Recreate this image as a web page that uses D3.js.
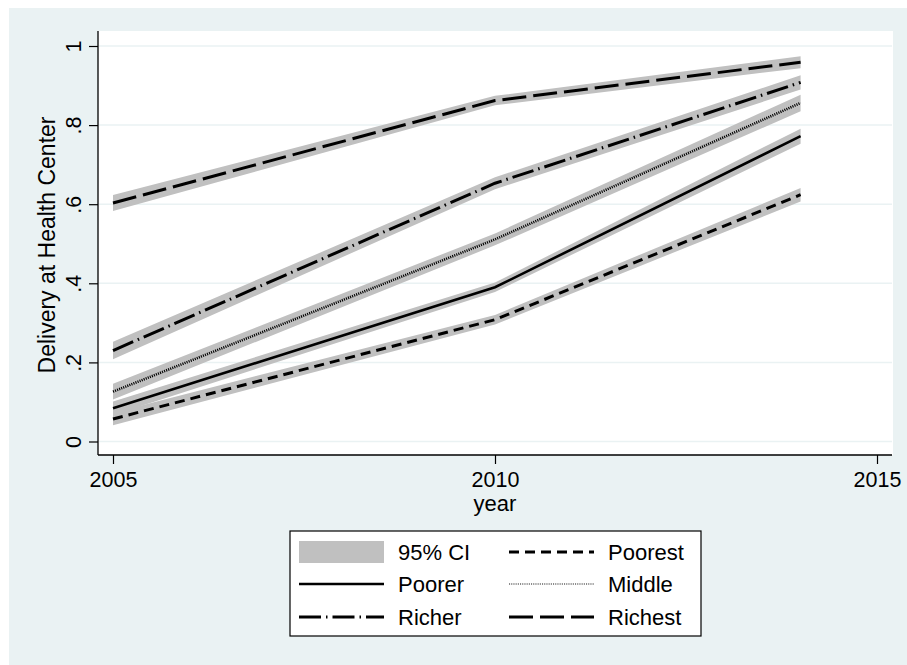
<!DOCTYPE html>
<html>
<head>
<meta charset="utf-8">
<script src="https://cdn.jsdelivr.net/npm/d3@7"></script>
<style>
  body { margin: 0; background: #fff; }
  text { font-family: "Liberation Sans", Arial, sans-serif; fill: #000; }
</style>
</head>
<body>
<script>
// ---------------- data ----------------
let years = [2005, 2010, 2014]
let groups = ["Poorest", "Poorer", "Middle", "Richer", "Richest"]

let poorest = [0.057, 0.308, 0.624]
let poorer  = [0.084, 0.390, 0.772]
let middle  = [0.126, 0.511, 0.856]
let richer  = [0.230, 0.653, 0.908]
let richest = [0.603, 0.862, 0.959]

// half width of the 95% CI at each year
let ciPoorest = [0.016, 0.012, 0.017]
let ciPoorer  = [0.017, 0.012, 0.019]
let ciMiddle  = [0.020, 0.015, 0.021]
let ciRicher  = [0.022, 0.015, 0.018]
let ciRichest = [0.020, 0.012, 0.015]

let xTicks = [2005, 2010, 2015]
let yTicks = [0, 0.2, 0.4, 0.6, 0.8, 1]
let yTickLabels = ["0", ".2", ".4", ".6", ".8", "1"]

let w = 907
let h = 665

let series = [
  { name: groups[0], values: poorest, ci: ciPoorest, dash: "10,6",       width: 3 },
  { name: groups[1], values: poorer,  ci: ciPoorer,  dash: null,         width: 2.6 },
  { name: groups[2], values: middle,  ci: ciMiddle,  dash: "1.1,1.1",    width: 2.6 },
  { name: groups[3], values: richer,  ci: ciRicher,  dash: "22,5,1.5,5", width: 3 },
  { name: groups[4], values: richest, ci: ciRichest, dash: "24,7",       width: 3 }
]

let svg = d3.select("body")
  .append("svg")
  .attr("width", w)
  .attr("height", h)

// outer panel
svg.append("rect")
  .attr("x", 9).attr("y", 8)
  .attr("width", w - 9).attr("height", h - 8)
  .attr("fill", "#eaf2f3")

// plot area
svg.append("rect")
  .attr("x", 98).attr("y", 31)
  .attr("width", 795).attr("height", 424)
  .attr("fill", "#fff")

let x = d3.scaleLinear().domain([2005, 2015]).range([113, 877])
let y = d3.scaleLinear().domain([0, 1]).range([441.5, 46])

// grid lines
svg.selectAll(".grid")
  .data(yTicks)
  .enter()
  .append("line")
    .attr("x1", 99).attr("x2", 892)
    .attr("y1", d => y(d)).attr("y2", d => y(d))
    .attr("stroke", "#eaf2f3")
    .attr("stroke-width", 1.5)

// CI bands
let area = d3.area()
  .x((d, i) => x(years[i]))
  .y0(d => y(d[0]))
  .y1(d => y(d[1]))

series.forEach(s => {
  let band = s.values.map((v, i) => [v - s.ci[i], v + s.ci[i]])
  svg.append("path")
    .attr("d", area(band))
    .attr("fill", "#c0c0c0")
})

// lines
let line = d3.line()
  .x((d, i) => x(years[i]))
  .y(d => y(d))

series.forEach(s => {
  svg.append("path")
    .attr("d", line(s.values))
    .attr("fill", "none")
    .attr("stroke", "#000")
    .attr("stroke-width", s.width)
    .attr("stroke-dasharray", s.dash)
})

// axes
let yAxis = d3.axisLeft(y)
  .tickValues(yTicks)
  .tickFormat((d, i) => yTickLabels[i])
  .tickSize(9)
  .tickSizeOuter(0)

let gy = svg.append("g")
  .attr("transform", "translate(98,0)")
  .call(yAxis)
gy.select(".domain").attr("d", "M0,31V455").attr("stroke", "#000").attr("stroke-width", 1.3)
gy.selectAll(".tick line").attr("stroke", "#000").attr("stroke-width", 1.2)
gy.selectAll(".tick text")
  .attr("x", null).attr("dy", null)
  .attr("transform", "translate(-17.5,0) rotate(-90)")
  .attr("text-anchor", "middle")
  .attr("font-size", 21.5)
  .attr("font-family", "Liberation Sans, Arial, sans-serif")

let xAxis = d3.axisBottom(x)
  .tickValues(xTicks)
  .tickFormat(d3.format("d"))
  .tickSize(9)
  .tickSizeOuter(0)

let gx = svg.append("g")
  .attr("transform", "translate(0,455)")
  .call(xAxis)
gx.select(".domain").attr("d", "M98,0H892").attr("stroke", "#000").attr("stroke-width", 1.3)
gx.selectAll(".tick line").attr("stroke", "#000").attr("stroke-width", 1.2)
gx.selectAll(".tick text")
  .attr("y", 32).attr("dy", null)
  .attr("font-size", 21.5)
  .attr("font-family", "Liberation Sans, Arial, sans-serif")

// axis titles
svg.append("text")
  .attr("x", 495).attr("y", 511)
  .attr("text-anchor", "middle")
  .attr("font-size", 22)
  .text("year")

svg.append("text")
  .attr("transform", "translate(55,245) rotate(-90)")
  .attr("text-anchor", "middle")
  .attr("font-size", 23)
  .text("Delivery at Health Center")

// legend
svg.append("rect")
  .attr("x", 290).attr("y", 531)
  .attr("width", 411).attr("height", 105)
  .attr("fill", "#fff")
  .attr("stroke", "#000")
  .attr("stroke-width", 1.2)

let legendItems = [
  { label: "95% CI", isBand: true },
  { label: series[0].name, s: series[0] },
  { label: series[1].name, s: series[1] },
  { label: series[2].name, s: series[2] },
  { label: series[3].name, s: series[3] },
  { label: series[4].name, s: series[4] }
]
let rowY = [552, 584, 617]
let colX = [299, 509]
let keyW = 85

legendItems.forEach((it, i) => {
  let col = i % 2
  let row = Math.floor(i / 2)
  let cy = rowY[row]
  let kx = colX[col]
  if (it.isBand) {
    svg.append("rect")
      .attr("x", kx).attr("y", cy - 11)
      .attr("width", keyW).attr("height", 22)
      .attr("fill", "#c0c0c0")
  } else {
    let mid = it.label == "Middle"
    svg.append("line")
      .attr("x1", kx).attr("x2", kx + keyW)
      .attr("y1", cy).attr("y2", cy)
      .attr("stroke", mid ? "#666" : "#000")
      .attr("stroke-width", mid ? 1.5 : it.s.width)
      .attr("stroke-dasharray", it.s.dash)
  }
  svg.append("text")
    .attr("x", kx + keyW + 14)
    .attr("y", cy + 8)
    .attr("font-size", 22)
    .text(it.label)
})
</script>
</body>
</html>
